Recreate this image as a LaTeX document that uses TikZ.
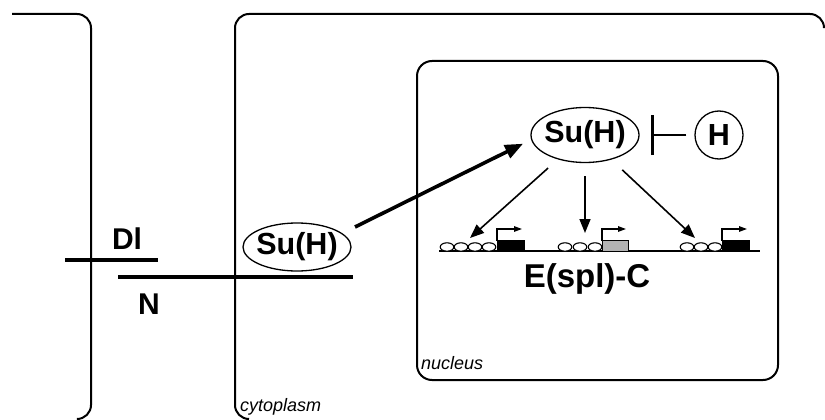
\documentclass[tikz,border=0pt]{standalone}
\usepackage{fontspec}
\setmainfont{Liberation Sans}
\usetikzlibrary{shapes.geometric,arrows.meta}
\begin{document}
\begin{tikzpicture}[x=1pt,y=-1pt,
  wall/.style={line width=2pt, rounded corners=14pt},
  memb/.style={line width=4.5pt},
  biglabel/.style={font=\bfseries\fontsize{30}{32}\selectfont, inner sep=0pt},
  genelabel/.style={font=\bfseries\fontsize{33}{35}\selectfont, inner sep=0pt},
  small/.style={font=\itshape\fontsize{18}{20}\selectfont, inner sep=0pt, anchor=west},
  protein/.style={draw, ellipse, line width=1.3pt, inner xsep=-5pt, inner ysep=-1pt, font=\bfseries\fontsize{30.5}{32}\selectfont},
  thinarrow/.style={line width=1.6pt, -{Triangle[length=14pt,width=11pt]}},
  bigarrow/.style={line width=3.6pt, -{Triangle[length=18pt,width=14pt]}},
  inhib/.style={line width=2.4pt, -{Bar[width=40pt,line width=3.2pt]}},
  dna/.style={line width=1.3pt},
  site/.style={draw, line width=1.1pt, fill=white},
  prom/.style={line width=1.3pt, -{Triangle[length=8pt,width=5.5pt]}}
]
\useasboundingbox (0,0) rectangle (825,420);

% left cell
\draw[wall] (12,14) -- (91,14) -- (91,419) -- (79,419);
% middle cell (cytoplasm)
\draw[wall] (824,27) -- (824,14) -- (235,14) -- (235,419) -- (249,419);
% nucleus
\draw[wall, rounded corners=15pt] (417,61) rectangle (778,380);

% membrane proteins
\coordinate (dl1) at (65,260); \coordinate (dl2) at (158,260);
\coordinate (n1) at (118,277); \coordinate (n2) at (353,277);
\draw[memb] (dl1) -- (dl2);
\draw[memb] (n1) -- (n2);
\node[biglabel] (dl) at (127,239) {Dl};
\node[biglabel] (n) at (149,304) {N};

% proteins
\node[protein, minimum width=108pt, minimum height=48pt] (cs) at (297,247) {Su(H)};
\node[protein, minimum width=108pt, minimum height=55pt] (nsu) at (585,135) {Su(H)};
\node[protein, circle, inner sep=0pt, minimum size=48pt] (hc) at (719,135) {H};

% translocation arrow
\coordinate (a0) at (355,227);
\draw[bigarrow, shorten >=9pt] (a0) -- (nsu.185);

% inhibition
\draw[inhib, shorten <=8pt, shorten >=11pt] (hc) -- (nsu);

% target arrows
\coordinate (g1) at (470,238);
\coordinate (g2) at (585,233);
\coordinate (g3) at (695,238);
\draw[thinarrow, shorten <=13pt] (nsu) -- (g1);
\draw[thinarrow, shorten <=13pt] (nsu) -- (g2);
\draw[thinarrow, shorten <=15pt] (nsu) -- (g3);

% DNA
\draw[dna] (439,251) -- (760,251);
\foreach \x in {447,461,475,489,565,580,595,687,701,715}
  \draw[site] (\x,247) ellipse (6.8pt and 4.2pt);
\fill[black] (497,240) rectangle (525,251);
\fill[gray!60] (602,240) rectangle (628,251);
\draw[line width=0.6pt] (602,240) rectangle (628,251);
\fill[black] (722,240) rectangle (750,251);
\draw[prom] (497,241) -- (497,229) -- (522,229);
\draw[prom] (602,241) -- (602,229) -- (626,229);
\draw[prom] (722,241) -- (722,229) -- (747,229);
\node[genelabel] (espl) at (587,279) {E(spl)-C};

% compartment labels
\node[small] (nuc) at (421,363) {nucleus};
\node[small] (cyto) at (240,407) {cytoplasm};
\end{tikzpicture}
\end{document}
